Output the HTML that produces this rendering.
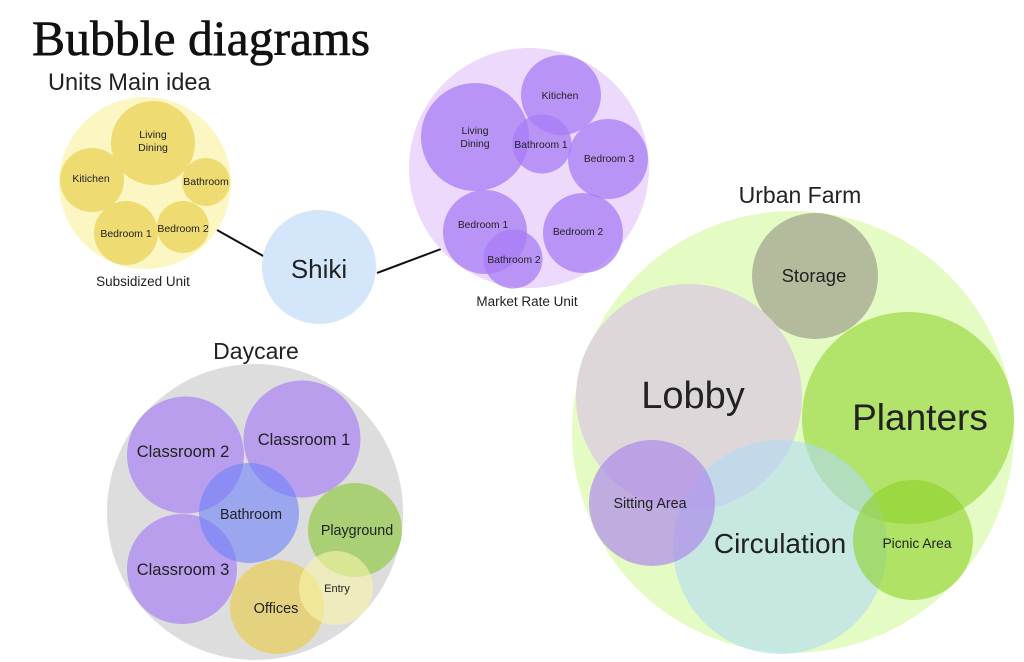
<!DOCTYPE html>
<html>
<head>
<meta charset="utf-8">
<style>
  html,body{margin:0;padding:0;background:#ffffff;}
  svg{display:block;}
  text{font-family:"Liberation Sans",sans-serif;fill:#222;}
  .serif{font-family:"Liberation Serif",serif;fill:#111;}
</style>
</head>
<body>
<svg width="1024" height="662" viewBox="0 0 1024 662" xmlns="http://www.w3.org/2000/svg">
  <rect width="1024" height="662" fill="#ffffff"/>

  <!-- Title -->
  <text class="serif" x="32" y="55" font-size="49.7" stroke="#111" stroke-width="0.6">Bubble diagrams</text>
  <text x="48" y="90" font-size="23.6">Units Main idea</text>

  <!-- Connectors -->
  <line x1="217" y1="230" x2="265" y2="257" stroke="#111" stroke-width="2"/>
  <line x1="377" y1="273" x2="441" y2="249" stroke="#111" stroke-width="2"/>

  <!-- Subsidized Unit -->
  <circle cx="145" cy="183" r="86" fill="#fcf6c2"/>
  <circle cx="153" cy="143" r="42" fill="#eedb72"/>
  <circle cx="92" cy="180" r="32" fill="#eedb72"/>
  <circle cx="206" cy="182" r="24" fill="#eedb72"/>
  <circle cx="126" cy="233" r="32" fill="#eedb72"/>
  <circle cx="183" cy="227" r="26" fill="#eedb72"/>
  <g font-size="10.5" text-anchor="middle">
    <text x="153" y="138">Living</text>
    <text x="153" y="151">Dining</text>
    <text x="91" y="182">Kitichen</text>
    <text x="206" y="185">Bathroom</text>
    <text x="126" y="237">Bedroom 1</text>
    <text x="183" y="232">Bedroom 2</text>
  </g>
  <text x="143" y="286" font-size="13.5" text-anchor="middle">Subsidized Unit</text>

  <!-- Shiki -->
  <circle cx="319" cy="267" r="57" fill="#d4e6fa"/>
  <text x="319" y="278" font-size="26" text-anchor="middle">Shiki</text>

  <!-- Market Rate Unit -->
  <circle cx="529" cy="168" r="120" fill="#ecd9fb"/>
  <g fill="rgb(168,124,245)" fill-opacity="0.75">
    <circle cx="475" cy="137" r="54"/>
    <circle cx="561" cy="95" r="40"/>
    <circle cx="542" cy="144" r="29.5"/>
    <circle cx="608" cy="159" r="40"/>
    <circle cx="485" cy="232" r="42"/>
    <circle cx="583" cy="233" r="40"/>
    <circle cx="513" cy="259" r="29.5"/>
  </g>
  <g font-size="10.3" text-anchor="middle">
    <text x="560" y="99">Kitichen</text>
    <text x="475" y="134">Living</text>
    <text x="475" y="147">Dining</text>
    <text x="541" y="148">Bathroom 1</text>
    <text x="609" y="162">Bedroom 3</text>
    <text x="483" y="228">Bedroom 1</text>
    <text x="578" y="235">Bedroom 2</text>
    <text x="514" y="263">Bathroom 2</text>
  </g>
  <text x="527" y="306" font-size="13.5" text-anchor="middle">Market Rate Unit</text>

  <!-- Daycare -->
  <text x="256" y="359" font-size="23" text-anchor="middle">Daycare</text>
  <circle cx="255" cy="512" r="148" fill="#dddddd"/>
  <g fill="#b89eec">
    <circle cx="302" cy="439" r="58.5"/>
    <circle cx="185.5" cy="455" r="58.5"/>
    <circle cx="182" cy="569" r="55"/>
  </g>
  <circle cx="249" cy="513" r="50" fill="rgb(110,130,250)" fill-opacity="0.6"/>
  <circle cx="355" cy="530" r="47" fill="#a9d074"/>
  <circle cx="277" cy="607" r="47" fill="#e4d27e"/>
  <circle cx="336" cy="588" r="37" fill="rgb(250,245,170)" fill-opacity="0.6"/>
  <g text-anchor="middle">
    <text x="183" y="457" font-size="16.5">Classroom 2</text>
    <text x="304" y="445" font-size="16.5">Classroom 1</text>
    <text x="183" y="575" font-size="16.5">Classroom 3</text>
    <text x="251" y="519" font-size="14.3">Bathroom</text>
    <text x="357" y="535" font-size="14.3">Playground</text>
    <text x="276" y="613" font-size="14.5">Offices</text>
    <text x="337" y="592" font-size="11">Entry</text>
  </g>

  <!-- Urban Farm -->
  <text x="800" y="203" font-size="23" text-anchor="middle">Urban Farm</text>
  <circle cx="793" cy="432" r="221" fill="#e4fcc3"/>
  <circle cx="815" cy="276" r="63" fill="#b3bb9c"/>
  <circle cx="689" cy="397" r="113" fill="#ddd7da"/>
  <circle cx="908" cy="418" r="106" fill="#b2e36a"/>
  <circle cx="780" cy="547" r="107" fill="rgb(178,218,245)" fill-opacity="0.6"/>
  <circle cx="652" cy="503" r="63" fill="rgb(172,135,235)" fill-opacity="0.68"/>
  <circle cx="913" cy="540" r="60" fill="rgb(140,208,38)" fill-opacity="0.6"/>
  <g text-anchor="middle">
    <text x="814" y="282" font-size="18.5">Storage</text>
    <text x="693" y="408" font-size="38">Lobby</text>
    <text x="920" y="430" font-size="37">Planters</text>
    <text x="780" y="553" font-size="28">Circulation</text>
    <text x="650" y="508" font-size="14.3">Sitting Area</text>
    <text x="917" y="548" font-size="13.8">Picnic Area</text>
  </g>
</svg>
</body>
</html>
